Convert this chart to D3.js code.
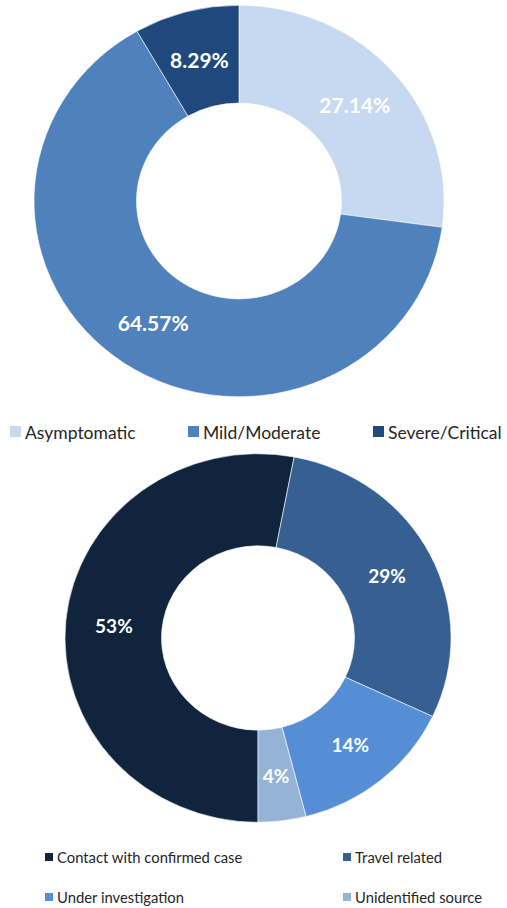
<!DOCTYPE html>
<html>
<head>
<meta charset="utf-8">
<script src="https://cdn.jsdelivr.net/npm/d3@7"></script>
<style>
  body { margin: 0; background: #fff; }
  svg text { font-family: Lato, "Open Sans", sans-serif; }
</style>
</head>
<body>
<div id="chart"></div>
<script>
// severity data (top donut)
const severityLabels = ['Asymptomatic', 'Mild/Moderate', 'Severe/Critical'];
const severityValues = [27.14, 64.57, 8.29];
const severityColors = ['#c6d9f0', '#4f81bd', '#1f497d'];

// source data (bottom donut)
const sourceLabels = ['Contact with confirmed case', 'Travel related', 'Under investigation', 'Unidentified source'];
const sourceValues = [53, 29, 14, 4];
const sourceColors = ['#10243e', '#366092', '#558ed5', '#95b3d7'];

const width = 507, height = 908;
const squash = 0.955; // the picture is slightly flattened vertically

const svg = d3.select('#chart')
    .append('svg')
    .attr('width', width)
    .attr('height', height);

function donut(cx, cy, r, labels, values, colors, startAngle, fmt, fontSize, fontWeight) {
    const pie = d3.pie().sort(null)
        .startAngle(startAngle)
        .endAngle(startAngle + 2 * Math.PI)
        .value(function (d) { return d; });
    const arcs = pie(values);
    const arc = d3.arc().innerRadius(r * 0.5).outerRadius(r);
    const labelArc = d3.arc().innerRadius(r * 0.75).outerRadius(r * 0.75);

    const g = svg.append('g')
        .attr('transform', `translate(${cx}, ${cy})`);

    g.append('g')
        .attr('transform', `scale(1, ${squash})`)
        .selectAll('path')
        .data(arcs)
        .enter()
        .append('path')
        .attr('d', arc)
        .attr('fill', function (d, i) { return colors[i]; })
        .attr('stroke', '#fff')
        .attr('stroke-width', 0.6);

    g.selectAll('text')
        .data(arcs)
        .enter()
        .append('text')
        .attr('x', function (d) { return labelArc.centroid(d)[0]; })
        .attr('y', function (d) { return labelArc.centroid(d)[1] * squash; })
        .attr('text-anchor', 'middle')
        .attr('dominant-baseline', 'central')
        .attr('fill', '#fff')
        .attr('font-size', fontSize)
        .attr('font-weight', fontWeight)
        .text(function (d) { return fmt(d.data); });
}

donut(239, 201, 205, severityLabels, severityValues, severityColors, 0,
    function (v) { return v.toFixed(2) + '%'; }, '21px', 'bold');
donut(258, 638, 193, sourceLabels, sourceValues, sourceColors, Math.PI,
    function (v) { return v + '%'; }, '19px', 'bold');

// top legend
const topLegendX = [10, 188, 373];
const topLegend = svg.append('g')
    .selectAll('g')
    .data(severityLabels)
    .enter()
    .append('g')
    .attr('transform', function (d, i) { return `translate(${topLegendX[i]}, 432)`; });
topLegend.append('rect')
    .attr('x', 0).attr('y', -6)
    .attr('width', 11).attr('height', 11)
    .attr('fill', function (d, i) { return severityColors[i]; });
topLegend.append('text')
    .attr('x', 15)
    .attr('y', 0)
    .attr('dominant-baseline', 'central')
    .attr('font-size', '17.5px')
    .attr('fill', '#262626')
    .text(function (d) { return d; });

// bottom legend
const botLegendX = [45, 343, 45, 343];
const botLegendY = [857, 857, 897, 897];
const botLegend = svg.append('g')
    .selectAll('g')
    .data(sourceLabels)
    .enter()
    .append('g')
    .attr('transform', function (d, i) { return `translate(${botLegendX[i]}, ${botLegendY[i]})`; });
botLegend.append('rect')
    .attr('x', 0).attr('y', -4)
    .attr('width', 8).attr('height', 8)
    .attr('fill', function (d, i) { return sourceColors[i]; });
botLegend.append('text')
    .attr('x', 12)
    .attr('y', 0)
    .attr('dominant-baseline', 'central')
    .attr('font-size', '14.8px')
    .attr('fill', '#262626')
    .text(function (d) { return d; });
</script>
</body>
</html>
